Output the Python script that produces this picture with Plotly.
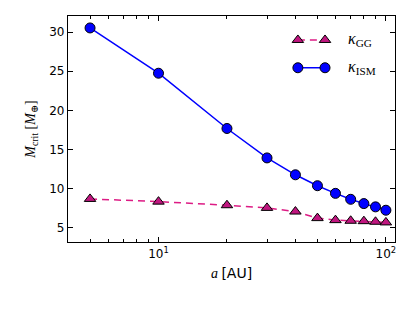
import plotly.graph_objects as go

a_au = [5, 10, 20, 30, 40, 50, 60, 70, 80, 90, 100]
m_gg = [8.65, 8.3, 7.84, 7.5, 7.03, 6.19, 5.93, 5.85, 5.8, 5.72, 5.64]
m_ism = [30.55, 24.75, 17.67, 13.9, 11.74, 10.34, 9.36, 8.6, 8.05, 7.63, 7.2]

x_major = [10, 100]
x_major_text = ["10<sup>1</sup>", "10<sup>2</sup>"]
x_minor = [5, 6, 7, 8, 9, 20, 30, 40, 50, 60, 70, 80, 90]
y_ticks = [5, 10, 15, 20, 25, 30]

GG_LINE = "#dd1c85"
GG_FILL = "#c0157f"
ISM_COL = "#0000ff"
SERIF = "Liberation Serif, DejaVu Serif, serif"
SANS = "DejaVu Sans, sans-serif"

fig = go.Figure()
fig.add_trace(go.Scatter(
    x=a_au, y=m_gg, mode="lines+markers", showlegend=False,
    line=dict(color=GG_LINE, width=1.5, dash="7px,5px"),
    marker=dict(symbol="triangle-up", size=10, color=GG_FILL,
                line=dict(color="black", width=1)),
))
fig.add_trace(go.Scatter(
    x=a_au, y=m_ism, mode="lines+markers", showlegend=False,
    line=dict(color=ISM_COL, width=1.5),
    marker=dict(symbol="circle", size=10, color=ISM_COL,
                line=dict(color="black", width=1)),
))

# legend samples (matplotlib-style, two markers per entry) on an overlay axis in [0,1]
leg_x = [0.703, 0.786]
leg_y_gg = 0.894
leg_y_ism = 0.771
fig.add_trace(go.Scatter(
    x=leg_x, y=[leg_y_gg] * 2, xaxis="x2", yaxis="y2", mode="lines+markers",
    showlegend=False, hoverinfo="skip",
    line=dict(color=GG_LINE, width=1.5, dash="7px,5px"),
    marker=dict(symbol="triangle-up", size=10, color=GG_FILL,
                line=dict(color="black", width=1)),
))
fig.add_trace(go.Scatter(
    x=leg_x, y=[leg_y_ism] * 2, xaxis="x2", yaxis="y2", mode="lines+markers",
    showlegend=False, hoverinfo="skip",
    line=dict(color=ISM_COL, width=1.5),
    marker=dict(symbol="circle", size=10, color=ISM_COL,
                line=dict(color="black", width=1)),
))

fig.add_annotation(x=0.85, y=leg_y_gg, xref="paper", yref="paper", xanchor="left",
                   yanchor="middle", showarrow=False,
                   text="<i>κ</i><sub>GG</sub>", font=dict(family=SERIF, size=16, color="black"))
fig.add_annotation(x=0.85, y=leg_y_ism, xref="paper", yref="paper", xanchor="left",
                   yanchor="middle", showarrow=False,
                   text="<i>κ</i><sub>ISM</sub>", font=dict(family=SERIF, size=16, color="black"))

fig.update_layout(
    width=415, height=311,
    margin=dict(l=68, r=20, t=16, b=69),
    paper_bgcolor="white", plot_bgcolor="white",
    font=dict(family=SANS, size=12, color="black"),
    xaxis=dict(
        type="log", range=[0.602, 2.04],
        tickmode="array", tickvals=x_major, ticktext=x_major_text,
        ticks="inside", ticklen=5, tickwidth=1, tickcolor="black",
        minor=dict(tickmode="array", tickvals=x_minor, ticks="inside", ticklen=2.5,
                   tickwidth=1, tickcolor="black", showgrid=False),
        showline=True, linecolor="black", linewidth=1.3, mirror="ticks",
        showgrid=False, zeroline=False,
        title=dict(text="<i>a</i> <span style='font-family:DejaVu Sans'>[AU]</span>",
                   font=dict(family=SERIF, size=14), standoff=8),
    ),
    yaxis=dict(
        range=[3.13, 32.08],
        tickmode="array", tickvals=y_ticks,
        ticks="inside", ticklen=5, tickwidth=1, tickcolor="black",
        showline=True, linecolor="black", linewidth=1.3, mirror="ticks",
        showgrid=False, zeroline=False,
        title=dict(text="<i>M</i><sub>crit</sub> [<i>M</i><sub>⊕</sub>]",
                   font=dict(family=SERIF, size=14), standoff=10),
    ),
    xaxis2=dict(overlaying="x", range=[0, 1], visible=False, fixedrange=True),
    yaxis2=dict(overlaying="y", range=[0, 1], visible=False, fixedrange=True),
)

fig.write_html("out.html", config={"displayModeBar": False},
               post_script="document.body.style.margin='0px';document.body.style.overflow='hidden';")
